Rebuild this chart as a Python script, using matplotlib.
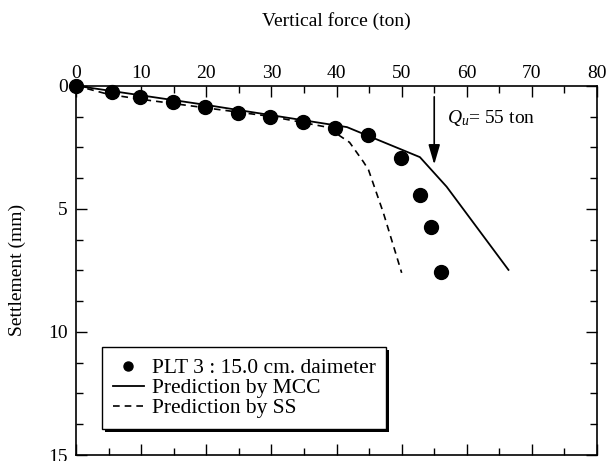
import numpy as np
import matplotlib.pyplot as plt
from matplotlib.ticker import MultipleLocator
from matplotlib.patches import Rectangle

plt.rcParams['font.family'] = ['Liberation Serif', 'DejaVu Serif']
plt.rcParams['mathtext.fontset'] = 'custom'
plt.rcParams['mathtext.it'] = 'Liberation Serif:italic'
plt.rcParams['mathtext.rm'] = 'Liberation Serif'

# measured load test points
plt_force = [0, 5.5, 9.8, 14.9, 19.8, 24.9, 29.8, 34.9, 39.8, 44.9, 49.9, 52.8, 54.5, 56.0]
plt_settle = [0, 0.27, 0.46, 0.66, 0.88, 1.10, 1.25, 1.49, 1.72, 2.02, 2.94, 4.43, 5.74, 7.57]

# prediction by MCC
mcc_force = [0, 20, 41.6, 52.8, 56.9, 66.4]
mcc_settle = [0, 0.78, 1.68, 2.9, 4.1, 7.48]

# prediction by SS
ss_force = [0, 5, 10, 20, 30, 38.5, 42, 44.1, 44.9, 47.2, 50.0]
ss_settle = [0, 0.35, 0.55, 0.9, 1.25, 1.68, 2.3, 3.08, 3.41, 5.17, 7.6]

qu = 55

fig = plt.figure(figsize=(6.08, 4.61), dpi=100)
ax = fig.add_axes([0.125, 0.013, 0.857, 0.801])

ax.plot(plt_force, plt_settle, 'o', color='black', markersize=10,
        label='PLT 3 : 15.0 cm. daimeter', zorder=3, clip_on=False)
ax.plot(mcc_force, mcc_settle, '-', color='black', linewidth=1.3,
        label='Prediction by MCC')
ax.plot(ss_force, ss_settle, '--', color='black', linewidth=1.2,
        dashes=(4, 3), label='Prediction by SS')

ax.annotate('', xy=(qu, 3.2), xytext=(qu, 0.45),
            arrowprops=dict(arrowstyle='-|>,head_length=1.2,head_width=0.35',
                            color='black', lw=1.2, shrinkA=0, shrinkB=0))
ax.text(57.0, 1.3, r'$Q_u$= 55 ton', fontsize=14, va='center', ha='left')

ax.set_xlim(0, 80)
ax.set_ylim(15, 0)
ax.xaxis.set_major_locator(MultipleLocator(10))
ax.xaxis.set_minor_locator(MultipleLocator(5))
ax.yaxis.set_major_locator(MultipleLocator(5))
ax.yaxis.set_minor_locator(MultipleLocator(1.25))
ax.xaxis.tick_top()
ax.xaxis.set_label_position('top')
ax.tick_params(which='both', direction='in', top=True, bottom=True,
               left=True, right=True, labelsize=14, width=1)
ax.tick_params(which='major', length=8)
ax.tick_params(which='minor', length=5)
ax.tick_params(axis='x', pad=3)
ax.tick_params(axis='y', pad=6)
ax.set_xlabel('Vertical force (ton)', fontsize=14, labelpad=28)
ax.set_ylabel('Settlement (mm)', fontsize=14, labelpad=16)
for s in ax.spines.values():
    s.set_linewidth(1.2)

leg = ax.legend(loc='lower left', bbox_to_anchor=(0.05, 0.07), fontsize=15.5,
                frameon=True, fancybox=False, edgecolor='black',
                facecolor='white', framealpha=1,
                handlelength=1.45, handletextpad=0.35, borderpad=0.5,
                labelspacing=0.0, markerscale=0.65, borderaxespad=0)
leg.get_frame().set_linewidth(1.0)
leg.set_zorder(5)

# drop shadow behind the legend box
fig.canvas.draw()
bb = leg.get_frame().get_window_extent().transformed(ax.transAxes.inverted())
dx = 3 / ax.bbox.width
dy = 3 / ax.bbox.height
ax.add_patch(Rectangle((bb.x0 + dx, bb.y0 - dy), bb.width, bb.height,
                       transform=ax.transAxes, facecolor='black',
                       edgecolor='none', zorder=4.5, clip_on=False))

fig.savefig('out.png', dpi=100)
